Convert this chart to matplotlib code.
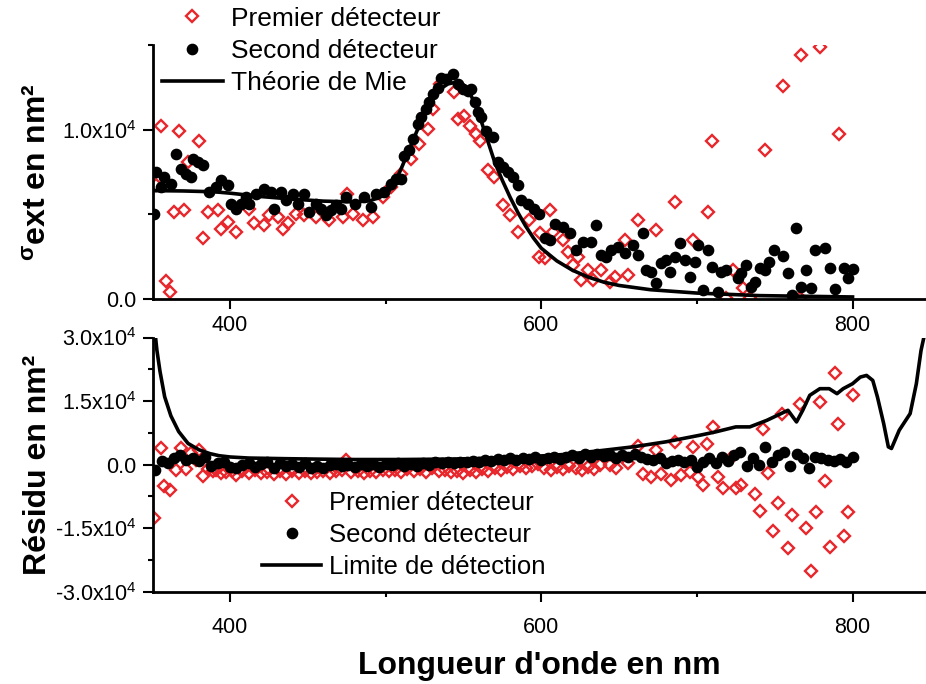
import matplotlib
matplotlib.use('Agg')

import matplotlib.pyplot as plt
import numpy             as np

plt.rcParams['font.family']      = ['Liberation Sans', 'DejaVu Sans']
plt.rcParams['mathtext.fontset'] = 'custom'
plt.rcParams['mathtext.rm']      = 'Liberation Sans'
plt.rcParams['mathtext.it']      = 'Liberation Sans:italic'
plt.rcParams['mathtext.bf']      = 'Liberation Sans:bold'

RED = '#e8262b'

# --- top panel : extinction cross section ---
prem_nm  = [352.4, 355.6, 358.8, 361.4, 364.2, 367.4, 370.6, 372.7, 379.8, 382.4, 385.6, 392.0, 394.2, 398.5,
            403.8, 412.4, 415.6, 422.0, 425.3, 430.6, 433.8, 437.0, 442.4, 447.7, 455.3, 463.8, 472.4, 475.4,
            478.9, 485.3, 491.7, 498.1, 503.5, 509.9, 516.4, 521.7, 527.1, 530.3, 534.6, 544.2, 546.4, 550.6,
            553.9, 558.2, 560.3, 565.6, 569.9, 575.3, 579.6, 585.0, 592.4, 598.4, 598.9, 602.1, 605.3, 607.4,
            613.9, 617.1, 620.3, 623.5, 625.7, 630.0, 633.2, 638.5, 643.9, 647.1, 653.5, 655.7, 662.1, 673.9,
            685.7, 697.5, 707.1, 709.9, 718.9, 723.2, 729.6, 733.9, 743.5, 755.3, 766.0, 767.1, 778.9, 791.3]
prem_val = [6710, 10240, 1080, 440, 5140, 9940, 5280, 8080, 9320, 3630, 5140, 5280, 4160, 4550,
            3970, 5340, 4460, 4360, 4950, 4850, 4160, 4490, 5040, 4950, 4850, 4650, 4850, 6200,
            5040, 4650, 4850, 6020, 6610, 7400, 8280, 9160, 10040, 11220, 12690, 12200, 10630, 10830,
            10240, 9750, 9360, 7590, 7200, 5530, 4950, 3970, 4650, 2500, 3870, 2400, 5240, 3970,
            3480, 2790, 2010, 2500, 1120, 1710, 1120, 1710, 1030, 1320, 3480, 1420, 4650, 4060,
            5730, 3480, 5140, 9360, 50, 1710, 630, 50, 8770, 12550, 50, 14410, 14900, 9750]

sec_nm  = [351.3, 352.4, 355.6, 357.7, 362.0, 365.2, 368.5, 371.7, 374.9, 376.0, 379.2, 382.4, 386.7, 391.0,
           394.2, 398.5, 400.6, 403.8, 407.1, 410.3, 412.4, 416.7, 422.0, 426.3, 428.5, 432.8, 436.0, 440.3,
           443.5, 447.8, 451.0, 455.3, 458.5, 461.7, 465.0, 468.1, 471.3, 474.5, 480.0, 486.3, 490.6, 493.9,
           499.2, 503.5, 506.7, 510.0, 512.1, 515.3, 517.4, 520.6, 522.8, 526.0, 528.1, 530.3, 533.5, 535.6,
           538.9, 543.1, 546.4, 549.6, 552.8, 555.0, 557.1, 559.2, 561.4, 564.6, 568.9, 572.1, 575.3, 578.5,
           581.7, 585.0, 587.1, 591.4, 595.6, 598.4, 602.1, 605.3, 608.5, 613.9, 618.2, 622.4, 626.7, 632.1,
           635.3, 638.5, 641.7, 645.0, 649.2, 653.5, 658.9, 662.1, 665.3, 667.5, 670.7, 673.9, 677.1, 680.3,
           682.5, 685.7, 688.9, 692.1, 695.3, 698.5, 700.7, 703.9, 707.1, 709.9, 713.5, 715.7, 718.9, 726.4,
           728.5, 731.7, 735.0, 737.1, 740.3, 743.5, 746.3, 749.3, 755.3, 758.5, 761.3, 763.9, 767.1, 770.3,
           773.1, 776.1, 782.1, 785.3, 788.5, 794.3, 797.1, 800.3]
sec_val = [5040, 7490, 6610, 7200, 6810, 8570, 7690, 7400, 7200, 8280, 8080, 7890, 6320, 6610,
           7000, 6710, 5630, 5340, 5630, 6020, 5630, 6220, 6510, 6320, 5340, 6320, 5830, 6220,
           5630, 6220, 5140, 5630, 5340, 4950, 5240, 5530, 5340, 6020, 5630, 6020, 5440, 6220,
           6320, 6810, 7100, 7100, 8470, 8770, 9450, 10340, 10730, 11220, 11610, 12100, 12490, 13080,
           12980, 13280, 12690, 12390, 12300, 12390, 11610, 11020, 10730, 9940, 9550, 8080, 7790, 7490,
           7200, 6710, 5830, 5630, 5340, 5040, 3590, 3480, 4450, 4260, 3870, 2890, 3380, 3380,
           4360, 2590, 2500, 2890, 3080, 2690, 3180, 2590, 3910, 1710, 1610, 930, 2100, 2300,
           1610, 2500, 3280, 2300, 1320, 2200, 3180, 540, 2890, 1910, 440, 1610, 1710, 1220,
           1520, 2000, 730, 1030, 1810, 1710, 2200, 2890, 2540, 1520, 240, 4220, 690, 1710,
           630, 2890, 3040, 1850, 570, 1850, 1260, 1750]

mie_nm  = [350, 370, 390, 400, 420, 440, 460, 480, 490, 500, 505, 510, 515, 520, 525, 530, 535, 540,
           545, 550, 555, 560, 565, 570, 575, 580, 585, 590, 595, 600, 610, 620, 630, 640, 650, 670,
           700, 740, 800]
mie_val = [6400, 6380, 6330, 6250, 6050, 5900, 5780, 5730, 5800, 6150, 6700, 7700, 8800, 9900, 10900,
           11800, 12400, 12700, 12800, 12650, 12000, 10900, 9500, 8100, 7000, 6000, 5100, 4300, 3600,
           3000, 2250, 1700, 1300, 1000, 800, 550, 350, 200, 120]

# --- bottom panel : residuals ---
res_prem_nm  = [351.0, 355.6, 357.7, 361.4, 365.2, 368.5, 371.7, 374.9, 378.0, 380.2, 382.4, 385.6, 388.8,
                391.0, 394.2, 397.4, 401.0, 403.8, 408.0, 412.0, 416.0, 420.0, 424.0, 428.0, 432.0, 436.0,
                440.0, 444.0, 448.0, 452.0, 456.0, 460.0, 464.0, 468.0, 472.0, 474.5, 478.0, 482.0, 486.0,
                490.0, 494.0, 498.0, 502.0, 506.0, 510.0, 514.0, 518.0, 522.0, 526.0, 530.0, 534.0, 538.0,
                542.0, 546.0, 550.0, 554.0, 558.0, 562.0, 566.0, 570.0, 574.0, 578.0, 582.0, 586.0, 590.0,
                594.0, 598.0, 602.0, 606.0, 610.0, 614.0, 618.0, 622.0, 626.0, 630.0, 634.0, 637.5, 643.9,
                648.0, 655.7, 662.1, 665.3, 670.7, 673.9, 677.1, 683.5, 685.7, 690.0, 695.3, 697.5, 700.7,
                703.9, 706.5, 710.3, 713.5, 716.7, 722.1, 725.3, 728.5, 737.1, 740.3, 742.5, 745.7, 748.9,
                752.1, 754.9, 758.5, 761.1, 766.0, 770.3, 773.1, 776.3, 778.9, 782.1, 785.3, 788.5, 790.7,
                794.3, 797.1, 800.3]
res_prem_val = [-12500, 3900, -5100, -5900, -1200, 3900, -1000, 2700, 1200, 3500, -2600, -1000, -1600,
                -1300, -2100, -1800, -1400, -2400, -1500, -1900, -1300, -2000, -1700, -2300, -1600, -2200,
                -1500, -1900, -1400, -2100, -1700, -1500, -2000, -1600, -1300, 1000, -1800, -1400, -1900,
                -1500, -1700, -1200, -1600, -1300, -1800, -1100, -1500, -1000, -1700, -900, -1400, -1200,
                -1800, -1500, -2100, -1300, -1700, -1000, -1500, -800, -1200, -600, -1000, -300, -800,
                -400, 100, -700, -1200, -500, -1000, -300, -800, -1300, -600, -1000, -100, -100,
                -900, 300, 4350, -2230, -2860, 3410, -2230, -3650, 5370, -2470, -1690, 4190, -2860,
                -4820, 4980, 8900, -2860, -5600, 1450, -5600, -4820, -6940, -10860, 8350, -1920, -15560,
                -8980, 12030, -19720, -11880, 14380, -14860, -25200, -11100, 14770, -3800, -19400, 21680, 9530,
                -16820, -11100, 16350]

res_sec_nm  = np.arange(352, 801, 4)
res_sec_val = [-1200, 800, 300, 1500, 2300, 1200, 1600, 900, 1800, -300, 400, 700, -500, -800, -200,
               300, -600, 200, 500, -700, 300, -400, 100, -600, 300, -900, -300, -700, -200, 200,
               -400, -100, -600, 100, -300, 200, -500, 100, -200, 300, -400, 200, -300, 400, 0,
               500, 300, 600, 400, 700, 500, 900, 700, 1100, 900, 1300, 1000, 1500, 1200, 1600,
               1300, 1700, 1100, 1500, 1900, 1300, 1800, 2200, 1500, 2400, 1800, 2600, 2000, 2300, 1600,
               2200, 1700, 2400, 1900, 1400, 1000, 1600, 300, 800, 1200, 600, 1000, -600, 700, 1500,
               300, 1800, 900, 2300, 3000, -300, 1500, -100, 4200, 500, 2300, 3000, -300, 2600, 1500,
               -800, 1800, 1600, 1200, 900, 1400, 600, 1700]

lim_nm  = [351, 353, 355, 358, 362, 367, 373, 380, 387, 393, 400, 412, 435, 455, 480, 510, 540, 570, 592,
           615, 637, 659, 680, 702, 712, 725, 734, 745, 754, 758.5, 764, 768, 772.5, 779, 785, 790, 794,
           800, 805, 809, 813, 816, 820, 823, 825, 830, 837, 841, 844, 847]
lim_val = [34000, 27000, 22000, 16000, 11500, 7800, 5000, 3500, 2600, 2100, 1800, 1550, 1400, 1300, 1200,
           1200, 1300, 1500, 1850, 2400, 3250, 4190, 5370, 6940, 7720, 8900, 8900, 10460, 12030, 12820,
           10070, 12820, 16350, 17920, 17920, 16740, 17920, 19090, 20660, 21050, 19870, 15950, 9680, 4190,
           3800, 8110, 12030, 19090, 26930, 32000]

W, H = 926, 684
X0   = 153


def style_axis(ax, xpad):
    for side in ['top', 'right']:
        ax.spines[side].set_visible(False)
    for side in ['left', 'bottom']:
        ax.spines[side].set_linewidth(2)
    ax.tick_params(which='major', direction='out', length=7.2, width=1.5, labelsize=15.5, pad=4.5)
    ax.tick_params(which='minor', direction='out', length=3.6, width=1.5)
    ax.tick_params(axis='x', which='major', pad=xpad)
    ax.set_xlim(350.5, 847.2)
    ax.set_xticks([400, 600, 800])
    ax.set_xticks([500, 700], minor=True)


def scatter_pair(ax, x1, y1, x2, y2):
    ax.plot(x1, y1, ls='none', marker='D', ms=6.4, mfc='none', mec=RED, mew=1.7, label='Premier détecteur')
    ax.plot(x2, y2, ls='none', marker='o', ms=7.4, color='black', label='Second détecteur')


def main():
    fig = plt.figure(figsize=(W / 100, H / 100), dpi=100)

    ax1 = fig.add_axes([X0 / W, 1 - 299 / H, 1 - X0 / W, (299 - 45) / H])
    ax2 = fig.add_axes([X0 / W, 1 - 591.7 / H, 1 - X0 / W, (591.7 - 337.5) / H])

    scatter_pair(ax1, prem_nm, prem_val, sec_nm, sec_val)
    ax1.plot(mie_nm, mie_val, color='black', lw=2.6, label='Théorie de Mie')

    style_axis(ax1, 4.5)
    ax1.set_ylim(0, 15000)
    ax1.set_yticks([0, 10000])
    ax1.set_yticklabels(['0.0', '1.0x10$^4$'])
    ax1.set_yticks([5000, 15000], minor=True)
    ax1.set_ylabel('$\\mathregular{^σ}$ext en nm²', fontsize=23, fontweight='bold')
    ax1.yaxis.set_label_coords(-0.13, 0.5)

    ax1.legend(loc='center left', bbox_to_anchor=(162 / W, 1 - 51 / H), bbox_transform=fig.transFigure,
               frameon=False, fontsize=19, borderpad=0, borderaxespad=0, handlelength=2.3,
               handletextpad=0.3, labelspacing=0.32)

    scatter_pair(ax2, res_prem_nm, res_prem_val, res_sec_nm, res_sec_val)
    ax2.plot(lim_nm, lim_val, color='black', lw=2.6, label='Limite de détection')

    style_axis(ax2, 11)
    ax2.set_ylim(-30000, 30000)
    ax2.set_yticks([-30000, -15000, 0, 15000, 30000])
    ax2.set_yticklabels(['-3.0x10$^4$', '-1.5x10$^4$', '0.0', '1.5x10$^4$', '3.0x10$^4$'])
    ax2.set_yticks([-22500, -7500, 7500, 22500], minor=True)
    ax2.set_ylabel('Résidu en nm²', fontsize=23, fontweight='bold')
    ax2.yaxis.set_label_coords(-0.13, 0.5)
    ax2.set_xlabel("Longueur d'onde en nm", fontsize=23, fontweight='bold')
    ax2.xaxis.set_label_coords(0.5, -0.235)

    ax2.legend(loc='center left', bbox_to_anchor=(262 / W, 1 - 535 / H), bbox_transform=fig.transFigure,
               frameon=False, fontsize=18.5, borderpad=0, borderaxespad=0, handlelength=2.3,
               handletextpad=0.3, labelspacing=0.32)

    fig.savefig('out.png', dpi=100)
    plt.close(fig)


if __name__ == '__main__':
    main()
